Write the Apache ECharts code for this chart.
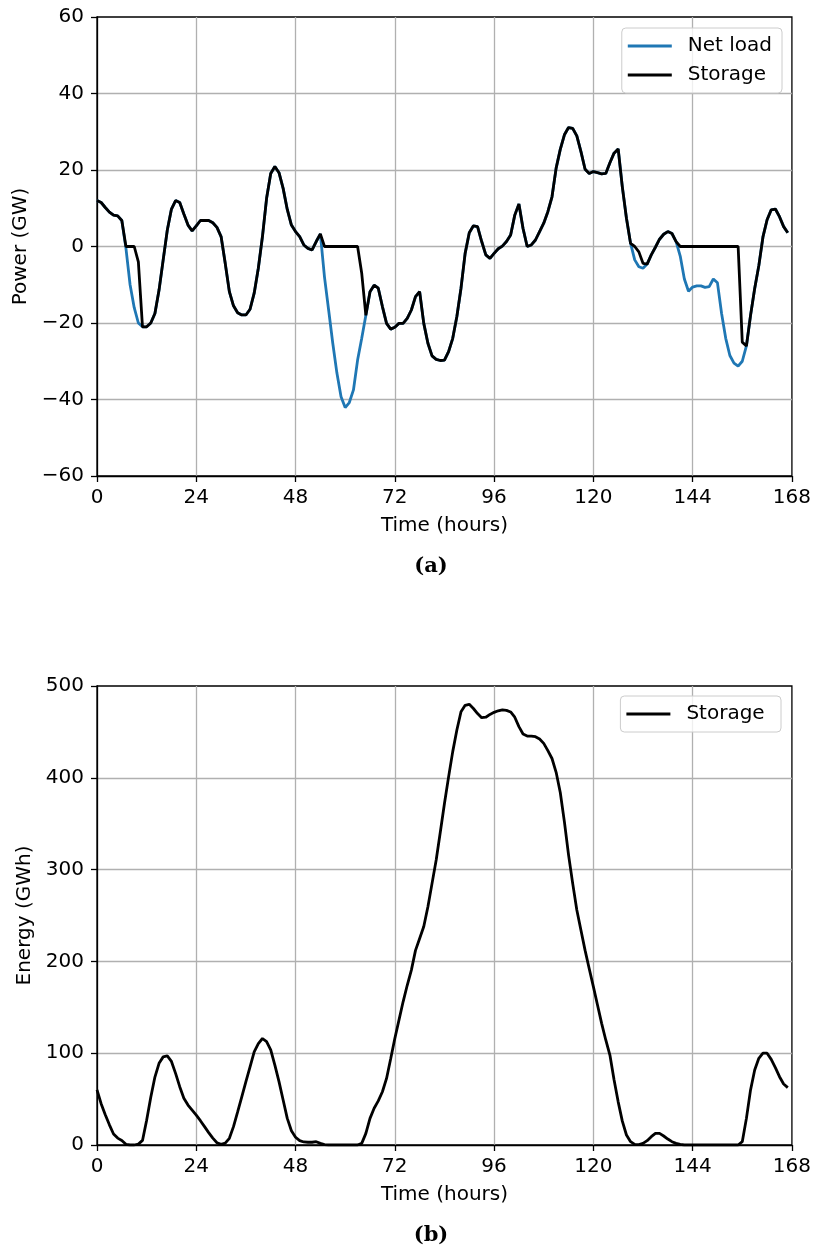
<!DOCTYPE html>
<html>
<head>
<meta charset="utf-8">
<script src="https://cdn.jsdelivr.net/npm/echarts@6/dist/echarts.min.js"></script>
<style>
html,body{margin:0;padding:0;background:#fff;}
#chart{width:814px;height:1253px;}
</style>
</head>
<body>
<div id="chart"></div>
<script>
// Hourly values, hours 0..167
const netLoad = [
  12.0, 11.5, 10.2, 9.0, 8.2, 8.0, 6.8, -0.5, -10, -16,
  -20, -21, -21, -20, -17.5, -11.4, -3.5, 4.3, 9.8, 12.0,
  11.5, 8.5, 5.6, 4.1, 5.4, 6.8, 6.8, 6.8, 6.2, 5.0,
  2.6, -4.4, -11.8, -15.5, -17.3, -17.9, -17.9, -16.4, -12.2, -5.7,
  2.6, 12.6, 19.1, 20.9, 19.3, 15.2, 9.7, 5.6, 3.9, 2.6,
  0.4, -0.5, -0.9, 1.3, 3.3, -8, -16.6, -25.3, -33.1, -39.3,
  -42.1, -40.8, -37.5, -29.7, -24, -18, -11.8, -10.1, -10.9, -15.7,
  -20.1, -21.6, -21.1, -20.1, -20.1, -18.8, -16.6, -13.1, -11.8, -20.1,
  -25.3, -28.6, -29.5, -29.8, -29.7, -27.5, -24, -18.3, -10.9, -1.8,
  3.6, 5.4, 5.2, 1.3, -2.2, -3.1, -1.8, -0.6, 0.1, 1.3,
  3.0, 8.2, 11.1, 4.7, 0, 0.4, 1.7, 3.9, 6.1, 9.1,
  13, 20.5, 25.4, 29.2, 31.1, 30.9, 28.9, 24.8, 20.2, 19.1,
  19.6, 19.3, 19.0, 19.1, 21.9, 24.4, 25.5, 15.6, 7.4, 0.8,
  -3.5, -5.3, -5.7, -4.6, -2.2, -0.2, 1.9, 3.2, 3.9, 3.4,
  1.3, -2.5, -8.5, -11.7, -10.6, -10.3, -10.3, -10.7, -10.5, -8.5,
  -9.5, -17.5, -24, -28.5, -30.5, -31.3, -30, -26, -18, -11,
  -5, 2.5, 7, 9.6, 9.8, 7.8, 5.2, 3.6
];
const storagePower = [
  12.0, 11.5, 10.2, 9.0, 8.2, 8.0, 6.8, 0, 0, 0,
  -4, -21, -21, -20, -17.5, -11.4, -3.5, 4.3, 9.8, 12.0,
  11.5, 8.5, 5.6, 4.1, 5.4, 6.8, 6.8, 6.8, 6.2, 5.0,
  2.6, -4.4, -11.8, -15.5, -17.3, -17.9, -17.9, -16.4, -12.2, -5.7,
  2.6, 12.6, 19.1, 20.9, 19.3, 15.2, 9.7, 5.6, 3.9, 2.6,
  0.4, -0.5, -0.9, 1.3, 3.3, 0, 0, 0, 0, 0,
  0, 0, 0, 0, -7, -18, -11.8, -10.1, -10.9, -15.7,
  -20.1, -21.6, -21.1, -20.1, -20.1, -18.8, -16.6, -13.1, -11.8, -20.1,
  -25.3, -28.6, -29.5, -29.8, -29.7, -27.5, -24, -18.3, -10.9, -1.8,
  3.6, 5.4, 5.2, 1.3, -2.2, -3.1, -1.8, -0.6, 0.1, 1.3,
  3.0, 8.2, 11.1, 4.7, 0, 0.4, 1.7, 3.9, 6.1, 9.1,
  13, 20.5, 25.4, 29.2, 31.1, 30.9, 28.9, 24.8, 20.2, 19.1,
  19.6, 19.3, 19.0, 19.1, 21.9, 24.4, 25.5, 15.6, 7.4, 0.8,
  0, -1.4, -4.4, -4.6, -2.2, -0.2, 1.9, 3.2, 3.9, 3.4,
  1.3, 0, 0, 0, 0, 0, 0, 0, 0, 0,
  0, 0, 0, 0, 0, 0, -25, -26, -18, -11,
  -5, 2.5, 7, 9.6, 9.8, 7.8, 5.2, 3.6
];
const storageEnergy = [
  60, 45, 33, 22, 12, 7.5, 5, 0.7, 0, 0,
  1, 5, 27, 52, 74, 89, 96, 97, 91, 78,
  63.5, 51, 43.5, 38, 32.5, 26.5, 20, 13.5, 7.5, 2.5,
  0.7, 2, 7.3, 20, 36, 52.5, 69, 85, 101.5, 110.5,
  116, 112.5, 103.5, 87, 69, 49, 29, 15.5, 8.5, 4.7,
  3.3, 3, 3, 3.6, 1.8, 0.5, 0, 0, 0, 0,
  0, 0, 0, 0, 1.8, 12.7, 29, 40, 48, 58,
  72.5, 94, 116, 136, 156, 174, 190.5, 212, 225, 238,
  259.5, 285, 310.5, 341, 372, 401, 428.5, 452, 472, 479,
  480, 475.5, 470, 465.5, 466, 469, 471.3, 473, 474, 473.5,
  471.7, 466, 455.7, 447.7, 445.5, 445.5, 444.8, 442.3, 437.5, 429.6,
  421, 406, 384, 352, 316, 285, 256, 234, 212, 192,
  172.5, 152.5, 132.5, 114.4, 98, 71, 47, 26, 10.9, 3.6,
  0.7, 0.5, 1.8, 4.7, 9.1, 12.7, 12.7, 9.8, 6.5, 3.6,
  1.8, 0.7, 0, 0, 0, 0, 0, 0, 0, 0,
  0, 0, 0, 0, 0, 0, 3.6, 29, 60, 81.7,
  94.4, 100, 100, 93.3, 84.2, 74.4, 66.4, 62.5
];
const xTicks = [0, 24, 48, 72, 96, 120, 144, 168];
const powerTicks = [-60, -40, -20, 0, 20, 40, 60];
const energyTicks = [0, 100, 200, 300, 400, 500];

const toPairs = arr => arr.map((v, i) => [i, v]);
const FONT = 'DejaVu Sans';
const minus = v => String(v).replace('-', '\u2212');
const LW = 2.8;

function xAxisCfg(gridIndex) {
  return {
    type: 'value', gridIndex,
    min: xTicks[0], max: xTicks[xTicks.length - 1], interval: 24,
    name: 'Time (hours)', nameLocation: 'middle', nameGap: 40,
    nameTextStyle: { fontFamily: FONT, fontSize: 20, color: '#000' },
    axisLine: { show: true, onZero: false, lineStyle: { color: '#000', width: 1.3 } },
    axisTick: { show: true, length: 6, lineStyle: { color: '#000', width: 1.3 } },
    axisLabel: { fontFamily: FONT, fontSize: 20, color: '#000', margin: 12, formatter: minus },
    splitLine: { show: true, showMinLine: false, showMaxLine: false, lineStyle: { color: '#b0b0b0', width: 1.3 } }
  };
}
function yAxisCfg(gridIndex, ticks, name, nameGap) {
  return {
    type: 'value', gridIndex,
    min: ticks[0], max: ticks[ticks.length - 1], interval: ticks[1] - ticks[0],
    name, nameLocation: 'middle', nameGap, nameRotate: 90,
    nameTextStyle: { fontFamily: FONT, fontSize: 20, color: '#000' },
    axisLine: { show: true, onZero: false, lineStyle: { color: '#000', width: 1.3 } },
    axisTick: { show: true, length: 6, lineStyle: { color: '#000', width: 1.3 } },
    axisLabel: { fontFamily: FONT, fontSize: 20, color: '#000', margin: 13, formatter: minus },
    splitLine: { show: true, showMinLine: false, showMaxLine: false, lineStyle: { color: '#b0b0b0', width: 1.3 } }
  };
}
function legendCfg(top, right, names) {
  return {
    top, right, orient: 'vertical', data: names,
    icon: 'rect', itemWidth: 44, itemHeight: 2.8, itemGap: 9,
    padding: [8, 10, 8, 6],
    backgroundColor: 'rgba(255,255,255,0.8)', borderColor: '#cccccc', borderWidth: 1, borderRadius: 4,
    selectedMode: false,
    textStyle: { fontFamily: FONT, fontSize: 20, lineHeight: 20, color: '#000', padding: [0, 0, 0, 11] }
  };
}

const chart = echarts.init(document.getElementById('chart'), null, { renderer: 'canvas' });
chart.setOption({
  animation: false,
  backgroundColor: '#fff',
  grid: [
    { left: 97, width: 695, top: 17, height: 459, show: true, borderColor: '#000', borderWidth: 1.3, backgroundColor: 'transparent' },
    { left: 97, width: 695, top: 686, height: 459, show: true, borderColor: '#000', borderWidth: 1.3, backgroundColor: 'transparent' }
  ],
  xAxis: [xAxisCfg(0), xAxisCfg(1)],
  yAxis: [yAxisCfg(0, powerTicks, 'Power (GW)', 65), yAxisCfg(1, energyTicks, 'Energy (GWh)', 62)],
  legend: [legendCfg(28, 32, ['Net load', 'Storage']), legendCfg(696, 33, [{ name: 'Storage ' }])],
  series: [
    { name: 'Net load', type: 'line', xAxisIndex: 0, yAxisIndex: 0, data: toPairs(netLoad),
      showSymbol: false, symbol: 'none', lineStyle: { color: '#1f77b4', width: LW }, itemStyle: { color: '#1f77b4' } },
    { name: 'Storage', type: 'line', xAxisIndex: 0, yAxisIndex: 0, data: toPairs(storagePower),
      showSymbol: false, symbol: 'none', lineStyle: { color: '#000', width: LW }, itemStyle: { color: '#000' } },
    { name: 'Storage ', type: 'line', xAxisIndex: 1, yAxisIndex: 1, data: toPairs(storageEnergy),
      showSymbol: false, symbol: 'none', lineStyle: { color: '#000', width: LW }, itemStyle: { color: '#000' } }
  ],
  graphic: [
    { type: 'text', x: 431, y: 567, style: { text: '(a)', font: 'bold 21px "DejaVu Serif"', fill: '#000', textAlign: 'center', textVerticalAlign: 'middle' } },
    { type: 'text', x: 431, y: 1236, style: { text: '(b)', font: 'bold 21px "DejaVu Serif"', fill: '#000', textAlign: 'center', textVerticalAlign: 'middle' } }
  ]
});
</script>
</body>
</html>
